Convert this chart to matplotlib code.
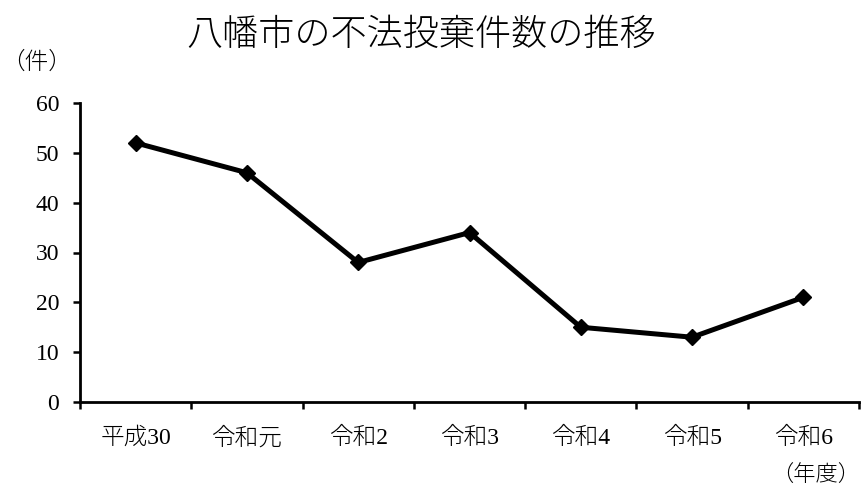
import numpy as np
import matplotlib
matplotlib.use("Agg")
import matplotlib.pyplot as plt

plt.rcParams['font.family'] = ['Liberation Serif', 'Noto Sans CJK JP', 'DejaVu Sans']

years = ["平成30", "令和元", "令和2", "令和3", "令和4", "令和5", "令和6"]
counts = [52, 46, 28, 34, 15, 13, 21]
y_ticks = [0, 10, 20, 30, 40, 50, 60]

fig = plt.figure(figsize=(8.61, 4.95), dpi=100)
ax = fig.add_axes([80 / 861, 1 - 402 / 495, 779 / 861, 299 / 495])

x = np.arange(len(years))
ax.plot(x, counts, color="black", lw=3.6, marker="D", markersize=8,
        markerfacecolor="black", markeredgecolor="black", clip_on=False, zorder=3)

ax.set_xlim(-0.5, len(years) - 0.5)
ax.set_ylim(0, 60)
ax.set_yticks(y_ticks)
ax.set_xticks(x)
ax.set_xticklabels(years, fontweight="light")
# tick marks sit on category boundaries
ax.set_xticks(np.arange(-0.5, len(years)), minor=True)
ax.tick_params(axis="x", which="major", length=0, pad=18, labelsize=17)
ax.tick_params(axis="x", which="minor", length=5, width=1.8, direction="out")
ax.tick_params(axis="y", length=5, width=1.8, direction="out", pad=10, labelsize=17)

for s in ("top", "right"):
    ax.spines[s].set_visible(False)
for s in ("left", "bottom"):
    ax.spines[s].set_linewidth(2)

fig.text(421 / 861, 1 - 36 / 495, "八幡市の不法投棄件数の推移", ha="center", va="center",
         fontsize=26, fontweight="light")
fig.text(1 / 861, 1 - 63 / 495, "（件）", ha="left", va="center", fontsize=17,
         fontweight="light")
fig.text(860 / 861, 1 - 476 / 495, "（年度）", ha="right", va="center", fontsize=16,
         fontweight="light")

fig.savefig("out.png", dpi=100)
